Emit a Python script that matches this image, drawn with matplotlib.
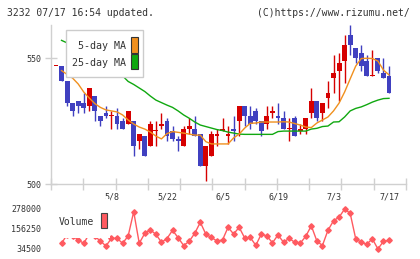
import matplotlib
matplotlib.use("Agg")
import matplotlib.pyplot as plt
import matplotlib.transforms as mtransforms
from matplotlib.patches import Rectangle
import numpy as np

# ---------------------------------------------------------
# data
# ---------------------------------------------------------
dates = ['4/21', '4/22', '4/23', '4/24', '4/25', '4/28', '4/30', '5/1', '5/2', '5/7',
         '5/8', '5/9', '5/12', '5/13', '5/14', '5/15', '5/16', '5/19', '5/20', '5/21',
         '5/22', '5/23', '5/26', '5/27', '5/28', '5/29', '5/30', '6/2', '6/3', '6/4',
         '6/5', '6/6', '6/9', '6/10', '6/11', '6/12', '6/13', '6/16', '6/17', '6/18',
         '6/19', '6/20', '6/23', '6/24', '6/25', '6/26', '6/27', '6/30', '7/1', '7/2',
         '7/3', '7/4', '7/7', '7/8', '7/9', '7/10', '7/11', '7/14', '7/15', '7/16',
         '7/17']

opens = [547, 547, 541, 532, 533, 532, 531, 535, 527, 528,
         527, 527, 525, 524, 525, 517, 519, 515, 521, 523,
         525, 521, 518, 515, 522, 522, 520, 507, 511, 519,
         521, 519, 522, 525, 531, 527, 529, 525, 524, 528,
         527, 526, 522, 526, 521, 522, 528, 533, 528, 534,
         542, 545, 549, 559, 554, 552, 549, 543, 550, 544,
         543]
highs = [547, 547, 541, 532, 533, 536, 538, 535, 527, 531,
         529, 530, 526, 529, 525, 520, 519, 525, 525, 528,
         526, 523, 519, 523, 526, 527, 520, 515, 521, 522,
         526, 523, 527, 531, 531, 531, 530, 525, 531, 531,
         532, 529, 526, 527, 524, 526, 538, 533, 532, 541,
         551, 552, 559, 563, 554, 555, 551, 553, 550, 550,
         547]
lows = [547, 541, 531, 527, 528, 528, 529, 525, 523, 526,
        522, 522, 522, 524, 511, 514, 511, 515, 515, 522,
        517, 517, 513, 515, 520, 519, 507, 501, 511, 515,
        521, 516, 517, 519, 523, 522, 524, 519, 522, 526,
        524, 522, 517, 519, 520, 520, 526, 525, 525, 530,
        536, 533, 540, 551, 548, 545, 543, 543, 544, 542,
        536]
closes = [547, 541, 532, 529, 531, 530, 538, 529, 525, 527,
          527, 524, 522, 529, 515, 520, 511, 524, 521, 524,
          519, 518, 517, 522, 523, 519, 507, 515, 520, 520,
          522, 520, 521, 531, 527, 524, 525, 521, 527, 529,
          526, 522, 522, 519, 522, 526, 533, 526, 532, 536,
          544, 548, 555, 555, 550, 547, 543, 543, 545, 542,
          536]

ma5 = [np.nan, 545.0, 543.5, 542.0, 539.7, 536.5, 534.1, 531.9, 530.4, 529.4,
       529.0, 528.6, 527.4, 525.4, 523.8, 522.6, 521.8, 520.6, 519.0, 517.9,
       520.0, 520.8, 520.5, 520.2, 519.8, 519.4, 519.4, 516.8, 515.9, 515.9,
       515.9, 515.9, 518.3, 519.8, 522.2, 524.1, 524.2, 524.6, 524.6, 524.6,
       524.6, 524.7, 524.6, 524.0, 523.4, 522.6, 522.4, 524.2, 525.4, 526.6,
       529.0, 532.1, 536.5, 541.7, 546.8, 549.8, 549.9, 549.8, 548.8, 545.2,
       543.3]
ma25 = [np.nan, 557.0, 556.0, 554.8, 553.5, 552.3, 551.0, 549.8, 548.5, 547.2,
        545.8, 544.4, 542.9, 540.7, 539.5, 538.1, 536.7, 534.9, 533.3, 532.3,
        531.3, 530.4, 529.0, 527.4, 526.1, 524.6, 523.4, 522.8, 522.2, 521.6,
        521.2, 520.6, 520.2, 519.8, 519.7, 519.7, 519.7, 519.7, 519.7, 519.7,
        520.8, 521.0, 521.0, 521.0, 521.0, 521.0, 521.8, 522.1, 522.8, 523.0,
        524.6, 524.7, 526.6, 529.0, 530.0, 530.6, 531.5, 532.5, 533.3, 533.9,
        534.0]

volume = [np.nan, 68600, 120000, 115000, 88300, 68600, 125000, 110000, 82400, 52400,
          98500, 98500, 68600, 112300, 257700, 68600, 128400, 148200, 122500, 74600,
          97300, 146400, 102100, 55400, 80600, 128400, 194200, 123100, 103300, 82400,
          88300, 164300, 124200, 164300, 100300, 103300, 56600, 124200, 112300, 71600,
          118300, 74600, 98500, 74600, 68600, 110500, 173300, 82400, 55400, 146400,
          203200, 224800, 273200, 248100, 95500, 74600, 63200, 95500, 34500, 80600,
          86600]

price_ticks = [500, 550]
vol_ticks = [34500, 156250, 278000]
label_every = 10

# ---------------------------------------------------------
# styles
# ---------------------------------------------------------
UP = '#d60000'
DOWN = '#4040c0'
C_MA5 = '#f0901e'
C_MA25 = '#10a810'
C_VOL = '#ff5a60'
GRID = '#d0d0d0'
TXT = '#333333'
FONT = 'DejaVu Sans Mono'

plt.rcParams['font.family'] = FONT

W, H = 420, 259
fig = plt.figure(figsize=(W / 100, H / 100), dpi=100)


def px_box(l, t, r, b):
    return [l / W, 1 - b / H, (r - l) / W, (b - t) / H]


ax = fig.add_axes(px_box(51, 25, 406, 184))
axv = fig.add_axes(px_box(51, 203, 406, 255))

x = np.arange(len(dates))
o = np.array(opens, float)
h = np.array(highs, float)
l = np.array(lows, float)
c = np.array(closes, float)
cols = np.where(c >= o, UP, DOWN)

xlim = (-0.9, 63.06)

# ---------------------------------------------------------
# candles + moving averages
# ---------------------------------------------------------
ax.vlines(x, l, h, colors=cols, lw=1.0, zorder=2)
body = np.maximum(np.abs(c - o), 0.4)
ax.bar(x, body, bottom=np.minimum(o, c), width=0.88, color=cols,
       linewidth=0, zorder=3)
ax.plot(x, ma25, color=C_MA25, lw=1.0, zorder=4)
ax.plot(x, ma5, color=C_MA5, lw=1.0, zorder=4)

ax.set_xlim(xlim)
ax.set_ylim(500, 563.1)
for s in ['top', 'right']:
    ax.spines[s].set_visible(False)
for s in ['left', 'bottom']:
    ax.spines[s].set_color(GRID)
    ax.spines[s].set_linewidth(1.0)
ax.set_xticks(np.linspace(xlim[0], xlim[1], 12))
ax.set_xticklabels([])
ax.set_yticks(price_ticks)
ax.set_yticklabels([str(v) for v in price_ticks])
ax.tick_params(axis='both', direction='inout', length=8, width=1.0,
               color=GRID, labelsize=6, labelcolor=TXT, pad=3)

# date labels between the panels
trans = mtransforms.blended_transform_factory(ax.transData, ax.transAxes)
for i in range(label_every, len(dates), label_every):
    ax.text(i, -0.082, dates[i], transform=trans, ha='center', va='center',
            fontsize=6, color=TXT)

# legend box drawn by hand (text first, swatch after)


def ax_pt(px, py):
    return (px - 51) / 355, (184 - py) / 159


x0, y1 = ax_pt(65.7, 30)
x1, y0 = ax_pt(143.3, 77.3)
ax.add_patch(Rectangle((x0, y0), x1 - x0, y1 - y0, transform=ax.transAxes,
                       facecolor='white', edgecolor='#cccccc', lw=1.0,
                       zorder=10, clip_on=False))
for name, col, ty, sy0, sy1 in [('5-day MA', C_MA5, 46, 37.3, 53.3),
                                 ('25-day MA', C_MA25, 63, 54.3, 69.3)]:
    tx, tyy = ax_pt(125.5, ty)
    ax.text(tx, tyy, name, transform=ax.transAxes, ha='right', va='center',
            fontsize=7.2, color=TXT, zorder=11)
    sx0, sya = ax_pt(131, sy1)
    sx1, syb = ax_pt(137.7, sy0)
    ax.add_patch(Rectangle((sx0, sya), sx1 - sx0, syb - sya,
                           transform=ax.transAxes, facecolor=col,
                           edgecolor='#333333', lw=0.8, zorder=11,
                           clip_on=False))

# ---------------------------------------------------------
# volume panel
# ---------------------------------------------------------
axv.plot(x, volume, color=C_VOL, lw=1.0, marker='D', ms=2.8,
         mfc=C_VOL, mec=C_VOL, zorder=2)
axv.set_xlim(xlim)
axv.set_ylim(-1400, 309700)
for s in axv.spines.values():
    s.set_visible(False)
axv.set_xticks([])
axv.set_yticks(vol_ticks)
axv.set_yticklabels([str(v) for v in vol_ticks])
axv.tick_params(axis='y', length=0, labelsize=6, labelcolor=TXT, pad=7)


def axv_pt(px, py):
    return (px - 51) / 355, (255 - py) / 52


vx0, vy1 = axv_pt(52, 199)
vx1, vy0 = axv_pt(110, 237.7)
axv.add_patch(Rectangle((vx0, vy0), vx1 - vx0, vy1 - vy0,
                        transform=axv.transAxes, facecolor='white',
                        edgecolor='none', zorder=5, clip_on=False))
tx, ty = axv_pt(58.5, 222.3)
axv.text(tx, ty, 'Volume', transform=axv.transAxes, ha='left', va='center',
         fontsize=7, color=TXT, zorder=6)
rx0, ry0 = axv_pt(101.3, 228.3)
rx1, ry1 = axv_pt(107, 213.3)
axv.add_patch(Rectangle((rx0, ry0), rx1 - rx0, ry1 - ry0,
                        transform=axv.transAxes, facecolor=C_VOL,
                        edgecolor='#444444', lw=0.8, zorder=6, clip_on=False))

# header
fig.text(6.7 / W, 1 - 13 / H, '3232 07/17 16:54 updated.', ha='left',
         va='center', fontsize=7, color=TXT)
fig.text(410 / W, 1 - 13 / H, '(C)https://www.rizumu.net/', ha='right',
         va='center', fontsize=7, color=TXT)

fig.savefig('out.png', dpi=100)
